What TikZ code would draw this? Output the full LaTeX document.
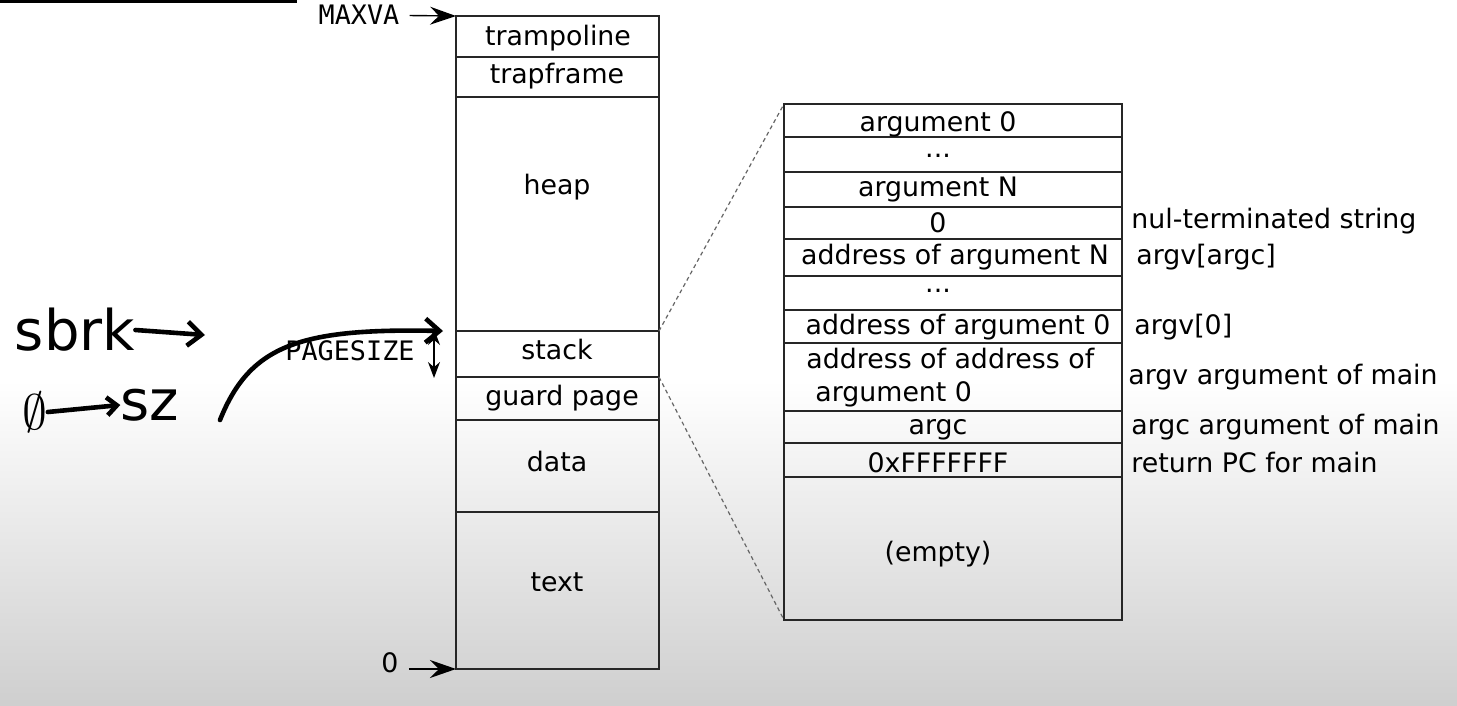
\documentclass[tikz,border=0pt]{standalone}
\usepackage{fontspec}
\setmainfont{DejaVu Sans}
\setmonofont{DejaVu Sans Mono}
\usetikzlibrary{arrows.meta, positioning, calc}

\begin{document}
\begin{tikzpicture}[x=0.5pt,y=-0.5pt,
  font=\fontsize{13.4}{15.5}\selectfont,
  box/.style={line width=0.8pt, draw=black!85},
  cell/.style={inner sep=0pt},
  note/.style={anchor=west, inner sep=0pt},
  addr/.style={inner sep=0pt, font=\ttfamily\fontsize{13.4}{15.5}\selectfont},
  ptr/.style={-{Stealth[length=13pt,width=9pt,inset=4.5pt]}, line width=0.7pt, shorten <=5pt},
  zoomline/.style={black!60, line width=0.6pt, dash pattern=on 2pt off 1.6pt},
  hand/.style={line width=2.3pt, line cap=round, line join=round},
  scrawl/.style={inner sep=0pt, font=\fontsize{28}{30}\selectfont}]
\useasboundingbox (0,0) rectangle (1457,706);
% Background
\fill[white] (0,0) rectangle (1457,380);
\fill[top color=white, bottom color=gray!38] (0,380) rectangle (1457,706);
\fill[black] (0,0) rectangle (297,3.5);
% Address space
\draw[box] (456,16) rectangle (659,669);
\foreach \y in {57,97,331,377,420,512}
  \draw[box] (456,\y) -- (659,\y);
\coordinate (memtop) at (456,16);
\coordinate (membot) at (456,669);
\coordinate (stacktop) at (659,331);
\coordinate (stackbot) at (659,377);
\node[cell] (tramp) at (558,38) {trampoline};
\node[cell] (trapf) at (557,76) {trapframe};
\node[cell] (heap) at (557,187) {heap};
\node[cell] (stack) at (557,350) {stack};
\node[cell] (guard) at (562,398) {guard page};
\node[cell] (data) at (557,462) {data};
\node[cell] (text) at (557,582) {text};
% Address labels
\node[addr] (maxva) at (359,15) {MAXVA};
\node[cell] (zero) at (390,663) {0};
\node[addr] (pgsz) at (350,351) {PAGESIZE};
\draw[ptr] (maxva) -- (memtop);
\draw[ptr] (zero.east |- membot) -- (membot);
\draw[{Stealth[length=8pt,width=6pt]}-{Stealth[length=8pt,width=6pt]}, line width=0.7pt]
  (434,329) -- (434,378);
% User stack
\draw[box] (784,104) rectangle (1122,620);
\foreach \y in {137,172,207,239,276,310,343,411,443,477}
  \draw[box] (784,\y) -- (1122,\y);
\coordinate (argtop) at (784,104);
\coordinate (argbot) at (784,620);
\draw[zoomline] (stacktop) -- (argtop);
\draw[zoomline] (stackbot) -- (argbot);
\node[cell] (arg0) at (938,124) {argument 0};
\node[cell] (dotsa) at (938,156) {...};
\node[cell] (argN) at (938,190) {argument N};
\node[cell] (nul) at (938,223) {0};
\node[cell] (ptrN) at (955,257) {address of argument N};
\node[cell] (dotsb) at (938,291) {...};
\node[cell] (ptr0) at (958,327) {address of argument 0};
\node[cell, align=left, anchor=west] (argvp) at (806,378)
  {address of address of\\[1pt]\hspace{4.5pt}argument 0};
\node[cell] (argc) at (938,430) {argc};
\node[cell] (retpc) at (938,463) {0xFFFFFFF};
\node[cell] (empty) at (938,554) {(empty)};
% Notes
\node[note] (nnul) at (1131,221) {nul-terminated string};
\node[note] (nargc) at (1136,257) {argv[argc]};
\node[note] (nargv0) at (1134,327) {argv[0]};
\node[note] (nargv) at (1128,377) {argv argument of main};
\node[note] (nargcm) at (1131,427) {argc argument of main};
\node[note] (nret) at (1131,463) {return PC for main};
% Handwriting
\node[scrawl] (sbrk) at (75,330) {sbrk};
\coordinate (sbrkend) at (205,335);
\draw[hand, -{Straight Barb[length=7pt,width=12pt]}] (sbrk.east) -- (sbrkend);
\node[scrawl] (nil) at (35,412) {$\emptyset$};
\node[scrawl] (sz) at (150,405) {sz};
\draw[hand, -{Straight Barb[length=5pt,width=9pt]}] (nil.east) -- (sz.west);
\coordinate (curvestart) at (220,420);
\coordinate (curveend) at (443,331);
\draw[hand, -{Straight Barb[length=7pt,width=12pt]}] (curvestart)
  .. controls (250,345) and (300,328) .. (curveend);
\end{tikzpicture}
\end{document}
